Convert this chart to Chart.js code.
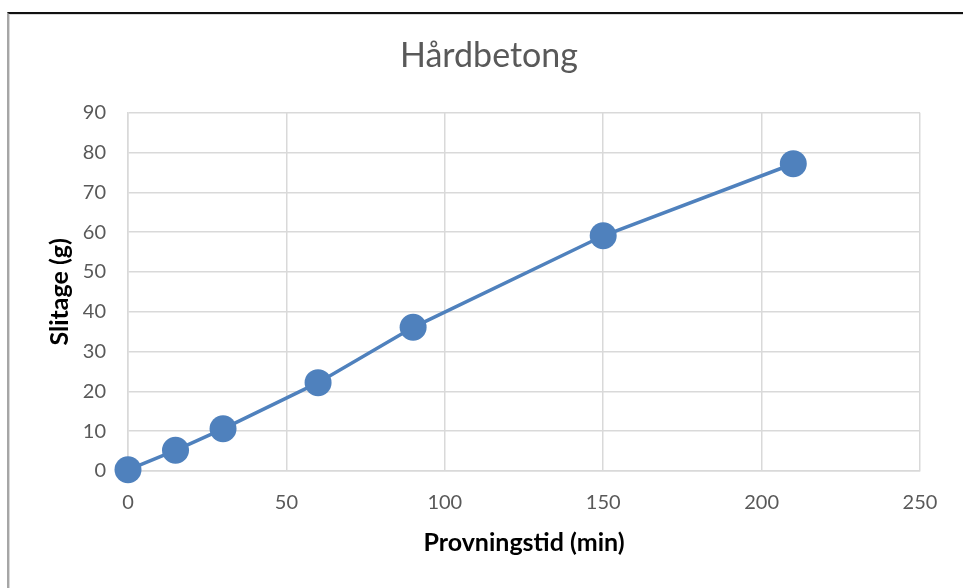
<!DOCTYPE html>
<html>
<head>
<meta charset="utf-8">
<script src="https://cdn.jsdelivr.net/npm/chart.js@4.4.0/dist/chart.umd.min.js"></script>
<style>
    body { margin: 0; background: #fff; }
    #wrap { position: relative; width: 963px; height: 588px; overflow: hidden; }
    #frame {
        position: absolute; left: 7px; top: 12px; right: -20px; bottom: -20px;
        border-top: 2px solid #111; border-left: 2px solid #a6a6a6;
        box-shadow: inset 1px 1px 0 #d9d9d9;
        pointer-events: none;
    }
</style>
</head>
<body>
<div id="wrap">
    <canvas id="graphCanvas" width="963" height="588"></canvas>
    <div id="frame"></div>
</div>
<script>
// data
let provningstid = [0, 15, 30, 60, 90, 150, 210];   // min
let slitage = [0.3, 5.2, 10.6, 22.2, 36.1, 59.1, 77.2]; // g
let xTicks = [0, 50, 100, 150, 200, 250];
let yTicks = [0, 10, 20, 30, 40, 50, 60, 70, 80, 90];

let blue = '#4f81bd';
let gridColor = '#d9d9d9';
let textGray = '#595959';
let fontName = 'Lato, "Open Sans", sans-serif';

let points = provningstid.map(function(x, i) {
    return { x: x, y: slitage[i] };
});

let graphCanvas = document.getElementById('graphCanvas').getContext('2d');
let scatterChart = new Chart(graphCanvas, {
    type: 'scatter',
    data: {
        datasets: [{
            label: 'Slitage',
            data: points,
            showLine: true,
            borderColor: blue,
            backgroundColor: blue,
            borderWidth: 3.5,
            pointRadius: 13.5,
            pointHoverRadius: 13.5,
            pointBorderWidth: 0,
            clip: false
        }]
    },
    options: {
        responsive: false,
        animation: false,
        events: [],
        // left padding shifts the title centre like the original
        layout: { padding: { left: 15, right: 0, top: 0, bottom: 0 } },
        plugins: {
            legend: { display: false },
            tooltip: { enabled: false },
            title: {
                display: true,
                text: 'Hårdbetong',
                color: textGray,
                font: { family: fontName, size: 34, weight: 'normal' },
                padding: { top: 36, bottom: 36 }
            }
        },
        scales: {
            x: {
                type: 'linear',
                min: 0,
                max: 250,
                afterBuildTicks: function(axis) {
                    axis.ticks = xTicks.map(function(v) { return { value: v }; });
                },
                afterFit: function(axis) { axis.height = 117; },
                grid: { color: gridColor, lineWidth: 1.5, drawTicks: false },
                border: { color: gridColor, width: 1.5 },
                ticks: {
                    color: textGray,
                    padding: 20,
                    font: { family: fontName, size: 20 }
                },
                title: {
                    display: true,
                    text: 'Provningstid (min)',
                    color: '#000',
                    font: { family: fontName, size: 25, weight: 'bold' },
                    padding: { top: 0, bottom: 30 }
                }
            },
            y: {
                type: 'linear',
                min: 0,
                max: 90,
                afterBuildTicks: function(axis) {
                    axis.ticks = yTicks.map(function(v) { return { value: v }; });
                },
                afterFit: function(axis) { axis.width = 113; },
                grid: { color: gridColor, lineWidth: 1.5, drawTicks: false },
                border: { color: gridColor, width: 1.5 },
                ticks: {
                    color: textGray,
                    padding: 22,
                    font: { family: fontName, size: 20 }
                },
                title: {
                    display: true,
                    text: 'Slitage (g)',
                    color: '#000',
                    font: { family: fontName, size: 25, weight: 'bold' },
                    padding: { top: 30, bottom: 0 }
                }
            },
            // empty right axis, keeps the gap right of the plot
            yRight: {
                type: 'linear',
                position: 'right',
                display: true,
                afterFit: function(axis) { axis.width = 43; },
                grid: { display: false },
                border: { display: false },
                ticks: { display: false }
            }
        }
    }
});
</script>
</body>
</html>
